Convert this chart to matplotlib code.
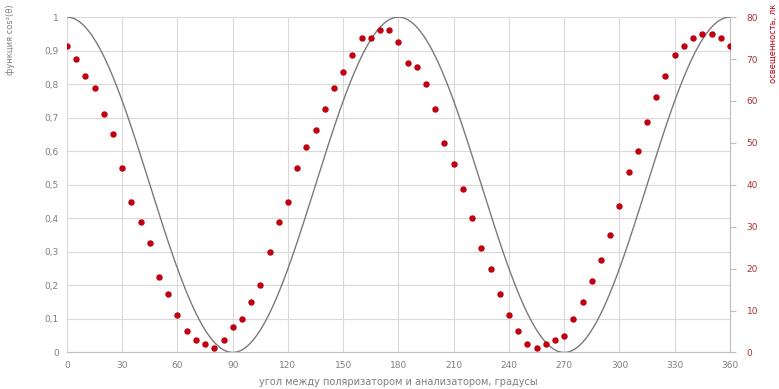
import numpy as np
import matplotlib
matplotlib.use("Agg")
import matplotlib.pyplot as plt
from matplotlib.ticker import FuncFormatter

# measured points, every 5 degrees
angles = list(range(0, 365, 5))
lux = [73, 70, 66, 63, 57, 52, 44, 36, 31, 26, 18, 14, 9, 5, 3, 2, 1, 3, 6, 8,
       12, 16, 24, 31, 36, 44, 49, 53, 58, 63, 67, 71, 75, 75, 77, 77, 74, 69,
       68, 64, 58, 50, 45, 39, 32, 25, 20, 14, 9, 5, 2, 1, 2, 3, 4, 8, 12, 17,
       22, 28, 35, 43, 48, 55, 61, 66, 71, 73, 75, 76, 76, 75, 73]
x_ticks = list(range(0, 361, 30))
left_ticks = [i / 10 for i in range(11)]
right_ticks = list(range(0, 81, 10))

theta = np.linspace(0, 360, 721)
cos2 = np.cos(np.radians(theta)) ** 2

fig = plt.figure(figsize=(7.79, 3.89), dpi=100)
ax = fig.add_axes([0.086, 0.094, 0.851, 0.862])
ax2 = ax.twinx()

grid_c = "#d9d9d9"
txt_c = "#7f7f7f"
red = "#c00010"

ax.plot(theta, cos2, color="#7a7a7a", lw=1.0, zorder=3)
ax2.plot(angles, lux, "o", color=red, ms=3.6, mec=red, zorder=4)

ax.set_xlim(0, 360)
ax.set_ylim(0, 1)
ax2.set_ylim(0, 80)
ax.set_xticks(x_ticks)
ax.set_yticks(left_ticks)
ax2.set_yticks(right_ticks)

comma = FuncFormatter(lambda v, p: ("%g" % v).replace(".", ","))
ax.yaxis.set_major_formatter(comma)

ax.grid(True, color=grid_c, lw=0.8)
ax.set_axisbelow(True)

for s in ["top", "right", "left"]:
    ax.spines[s].set_visible(False)
ax.spines["bottom"].set_color("#bfbfbf")
for s in ["top", "left", "bottom"]:
    ax2.spines[s].set_visible(False)
ax2.spines["right"].set_color("#bfbfbf")

ax.tick_params(axis="both", length=0, labelsize=6.5, labelcolor=txt_c, pad=6)
ax2.tick_params(axis="y", length=4, color="#bfbfbf", labelsize=6.5,
                labelcolor="#b03030", pad=8)

ax.set_xlabel("угол между поляризатором и анализатором, градусы",
              fontsize=7, color=txt_c, labelpad=5)
fig.text(0.013, 0.99, "функция cos²(θ)", rotation=90, ha="center", va="top",
         fontsize=6, color=txt_c)
fig.text(0.992, 0.99, "освещенность, лк", rotation=90, ha="center",
         va="top", fontsize=6, color=red)

fig.savefig("out.png", dpi=100)
